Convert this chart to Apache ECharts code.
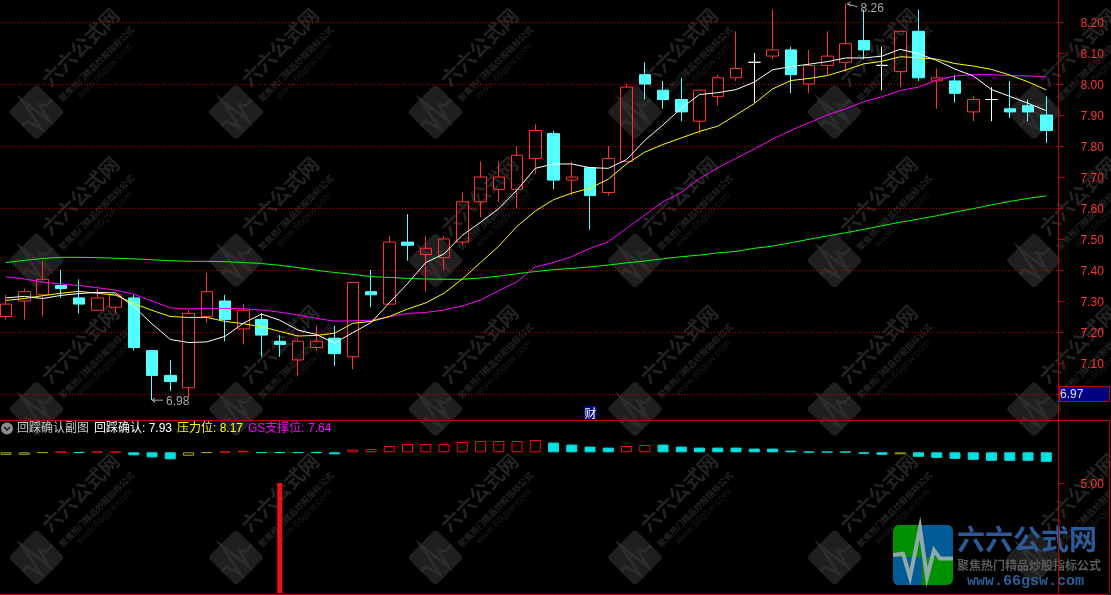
<!DOCTYPE html>
<html><head><meta charset="utf-8">
<style>html,body{margin:0;padding:0;background:#000}#c{width:1111px;height:595px}</style>
<script src="https://cdn.jsdelivr.net/npm/echarts@6/dist/echarts.min.js"></script>
</head><body><div id="c"></div>
<script>
const opens=[7.25,7.30,7.32,7.35,7.31,7.27,7.28,7.31,7.14,7.06,7.02,7.25,7.30,7.21,7.24,7.17,7.11,7.15,7.18,7.12,7.33,7.29,7.49,7.45,7.44,7.49,7.62,7.66,7.66,7.76,7.84,7.69,7.73,7.65,7.75,8.03,7.98,7.95,7.88,7.96,8.02,8.07,8.09,8.11,8.00,8.06,8.07,8.14,8.06,8.04,8.17,8.01,8.01,7.91,7.95,7.92,7.93,7.90];
const closes=[7.29,7.33,7.37,7.34,7.29,7.31,7.32,7.15,7.06,7.04,7.26,7.33,7.24,7.27,7.19,7.16,7.17,7.17,7.13,7.36,7.32,7.49,7.48,7.47,7.50,7.62,7.70,7.70,7.77,7.85,7.69,7.70,7.64,7.76,7.99,8.00,7.95,7.91,7.98,8.02,8.05,8.07,8.11,8.03,8.06,8.09,8.13,8.11,8.06,8.17,8.02,8.02,7.97,7.95,7.95,7.91,7.91,7.85];
const lows=[7.24,7.24,7.25,7.31,7.26,7.27,7.26,7.14,6.98,7.01,6.99,7.23,7.17,7.16,7.12,7.12,7.06,7.14,7.09,7.08,7.28,7.29,7.43,7.33,7.40,7.48,7.57,7.62,7.60,7.71,7.66,7.64,7.53,7.64,7.75,7.95,7.92,7.88,7.84,7.93,8.01,7.94,8.08,7.97,7.97,8.03,8.04,8.08,7.98,7.99,8.01,7.92,7.94,7.88,7.88,7.89,7.88,7.81];
const highs=[7.32,7.34,7.43,7.40,7.37,7.34,7.32,7.32,7.14,7.11,7.27,7.39,7.32,7.29,7.26,7.19,7.18,7.22,7.22,7.36,7.40,7.51,7.58,7.51,7.51,7.65,7.75,7.75,7.80,7.87,7.85,7.75,7.73,7.80,8.00,8.07,8.01,8.02,7.98,8.03,8.17,8.10,8.24,8.12,8.11,8.17,8.26,8.24,8.12,8.17,8.24,8.05,8.03,7.96,7.99,8.01,7.95,7.96];
const whiteLine=[7.31,7.315,7.308,7.318,7.324,7.328,7.326,7.282,7.226,7.176,7.166,7.168,7.186,7.228,7.258,7.238,7.206,7.192,7.164,7.198,7.23,7.294,7.356,7.424,7.452,7.512,7.554,7.598,7.658,7.728,7.742,7.742,7.73,7.728,7.756,7.818,7.868,7.922,7.966,7.972,7.982,8.006,8.046,8.056,8.064,8.072,8.084,8.084,8.09,8.112,8.098,8.076,8.048,8.026,7.982,7.96,7.938,7.914];
const yellowLine=[7.302,7.308,7.317,7.325,7.331,7.325,7.319,7.292,7.27,7.25,7.247,7.247,7.234,7.227,7.217,7.202,7.187,7.189,7.196,7.228,7.234,7.25,7.274,7.294,7.325,7.371,7.424,7.477,7.541,7.59,7.627,7.648,7.664,7.693,7.742,7.78,7.805,7.826,7.847,7.864,7.90,7.937,7.984,8.011,8.018,8.027,8.045,8.065,8.073,8.088,8.085,8.08,8.066,8.058,8.047,8.029,8.007,7.981];
const magentaLine=[7.378,7.371,7.361,7.355,7.35,7.343,7.335,7.322,7.30,7.278,7.274,7.276,7.276,7.275,7.271,7.264,7.255,7.244,7.235,7.236,7.238,7.249,7.26,7.263,7.271,7.284,7.303,7.333,7.362,7.41,7.424,7.443,7.47,7.491,7.534,7.577,7.62,7.65,7.695,7.73,7.76,7.79,7.822,7.85,7.875,7.90,7.92,7.943,7.959,7.979,7.99,8.013,8.026,8.03,8.03,8.027,8.026,8.023];
const greenLine=[7.424,7.431,7.437,7.441,7.441,7.44,7.438,7.436,7.433,7.43,7.428,7.428,7.427,7.424,7.421,7.415,7.408,7.399,7.392,7.386,7.379,7.376,7.373,7.371,7.37,7.37,7.374,7.38,7.388,7.395,7.401,7.405,7.41,7.416,7.423,7.429,7.436,7.443,7.448,7.455,7.46,7.47,7.477,7.488,7.499,7.51,7.52,7.531,7.543,7.554,7.564,7.575,7.587,7.598,7.61,7.621,7.631,7.639];
const histValues=[-2.5,-2.5,-0.5,0.5,-0.5,0.5,0.5,-3,-5,-7,-3.5,-0.5,0.5,1.5,-0.5,-0.5,-0.5,-0.5,-2,2.7,3.3,6.3,8.3,8.3,8.3,10.3,11.3,11.3,11.3,12.3,9.7,7.7,5.7,4.7,6.3,7.3,7.7,5.7,4.7,4.7,4.7,3.7,3.7,1.7,0.5,0.5,0.5,-1.5,-2.5,-2,-4.5,-5.5,-6.5,-7.5,-8.5,-8.5,-8.5,-9.5];
const histKinds=('ooo'+'r'+'c'+'rr'+'ccc'+'oo'+'r'+'R'+'ccccc'+'rrrrrrrrrrr'+'cccc'+'rr'+'ccccccccccccc'+'o'+'cccccccc').split('');
const signalValue=[5.00];
const signalIndex=[15];
const extremes=[[8,6.98],[46,8.26]];
const priceLabels=[8.2,8.1,8.0,7.9,7.8,7.7,7.6,7.5,7.4,7.3,7.2,7.1];
const priceTicks=[8.2,8.1,8.0,7.9,7.8,7.7,7.6,7.5,7.4,7.3,7.2,7.1,7.0];
const lastLow=['6.97'];
const legendTexts=['回踩确认副图','回踩确认: 7.93','压力位: 8.17','GS支撑位: 7.64'];
const categories=opens.map((_,i)=>String(i));

const RED='#ff3232',CYAN='#54ffff',FRAME='#c00000',HCYAN='#00e1e1',OLIVE='#a8a800';
const FONT="12px 'Liberation Sans','Noto Sans CJK SC',sans-serif";
const kindStyle={
 r:{color:'transparent',borderColor:'#f01010',borderWidth:1},
 R:{color:'#f01010',borderColor:'#f01010',borderWidth:1},
 c:{color:HCYAN,borderColor:HCYAN,borderWidth:1},
 o:{color:'transparent',borderColor:OLIVE,borderWidth:1}
};
// watermark decorations
const beatX=[0,.167,.283,.45,.567,.683,.783,1],beatY=[.5,.48,.87,.05,.87,.42,.56,.56];
const gfx=[];
[36.5,236,435.5,635,834.5,1034].forEach(cx=>[112,260.5,409,557.5].forEach(cy=>{
 gfx.push({type:'group',x:cx,y:cy,z:-10,silent:true,children:[
  {type:'group',rotation:Math.PI/4,children:[
   {type:'rect',shape:{x:-20,y:-20,width:40,height:40,r:4},style:{fill:'#1f1f1f'}},
   {type:'polyline',shape:{points:beatX.map((b,i)=>[-20+40*b,-20+40*beatY[i]])},style:{stroke:'#2c2c2c',lineWidth:3,fill:null}}
  ]},
  {type:'text',x:44,y:-65,rotation:Math.PI/4,style:{text:'六六公式网',fill:'#232323',font:"bold 20px 'Noto Sans CJK SC'",textAlign:'center',textVerticalAlign:'middle'}},
  {type:'text',x:60,y:-48,rotation:Math.PI/4,style:{text:'聚焦热门精品炒股指标公式',fill:'#242424',font:"bold 8.5px 'Noto Sans CJK SC'",textAlign:'center',textVerticalAlign:'middle'}},
  {type:'text',x:68,y:-41,rotation:Math.PI/4,style:{text:'www.66gsw.com',fill:'#1a1a1a',font:"10px 'Liberation Sans'",textAlign:'center',textVerticalAlign:'middle'}}
 ]});
}));
// logo
const LG=893,LT=525,LS=60;
gfx.push({type:'group',z:20,silent:true,children:[
 {type:'rect',shape:{x:LG,y:LT,width:LS,height:LS,r:6},style:{fill:'#009000'}},
 {type:'rect',shape:{x:LG+29,y:LT,width:LS-29,height:32,r:[0,6,0,0]},style:{fill:'#005a96'}},
 {type:'rect',shape:{x:LG,y:LT+32,width:29,height:LS-32,r:[0,0,0,6]},style:{fill:'#005a96'}},
 {type:'polyline',shape:{points:beatX.map((b,i)=>[LG+LS*b,LT+LS*beatY[i]])},style:{stroke:'#8fa8a8',lineWidth:4,fill:null,lineJoin:'miter'}},
 {type:'text',x:957,y:539,style:{text:'六六公式网',fill:'#2c5a96',font:"bold 28px 'Noto Sans CJK SC'",textVerticalAlign:'middle'}},
 {type:'text',x:957,y:565,style:{text:'聚焦热门精品炒股指标公式',fill:'#5a5a5a',font:"bold 12px 'Noto Sans CJK SC'",textVerticalAlign:'middle'}},
 {type:'text',x:967,y:581,style:{text:'www.66gsw.com',fill:'#2a5d9c',font:"bold 15px 'Liberation Mono'",textVerticalAlign:'middle'}}
]});
// frame
const seg=(x1,y1,x2,y2)=>({type:'line',z:30,silent:true,shape:{x1,y1,x2,y2},style:{stroke:FRAME,lineWidth:1}});
gfx.push(seg(0,420.5,1109,420.5),seg(1058.5,0,1058.5,595),seg(1109.5,420,1109.5,594),seg(0,594.5,1109,594.5));
gfx.push({type:'rect',z:31,silent:true,shape:{x:1059.5,y:386.5,width:50,height:15},style:{fill:'#000080',stroke:FRAME,lineWidth:1}});
gfx.push({type:'text',z:32,silent:true,x:1060,y:394.5,style:{text:lastLow[0],fill:'#e0e0e0',font:FONT,textVerticalAlign:'middle'}});
gfx.push({type:'rect',z:31,silent:true,shape:{x:584,y:406,width:13,height:14},style:{fill:'#000a80'}});
gfx.push({type:'text',z:32,silent:true,x:590.5,y:413,style:{text:'财',fill:'#fff',font:"12px 'Noto Sans CJK SC'",textAlign:'center',textVerticalAlign:'middle'}});
// title row
gfx.push({type:'circle',z:31,silent:true,shape:{cx:7,cy:428.5,r:6},style:{fill:'#8c8c8c'}});
gfx.push({type:'polyline',z:32,silent:true,shape:{points:[[4,427],[7,430],[10,427]]},style:{stroke:'#111',lineWidth:1.3,fill:null}});
[[17,'#c8c8c8'],[94,'#ffffff'],[177,'#ffff00'],[248,'#ff00ff']].forEach((p,i)=>gfx.push({type:'text',z:31,silent:true,x:p[0],y:429,style:{text:legendTexts[i],fill:p[1],font:FONT,textVerticalAlign:'middle'}}));

const mkLine=(name,data,color)=>({name,type:'line',xAxisIndex:0,yAxisIndex:0,data,showSymbol:false,silent:true,z:5,lineStyle:{color,width:1}});
const hiddenCat={type:'category',data:categories,show:false,boundaryGap:true};
const OB={outerBoundsMode:'none',containLabel:false};
const chart=echarts.init(document.getElementById('c'),null,{renderer:'canvas'});
chart.setOption({
 animation:false,backgroundColor:'#000',
 grid:[
  Object.assign({left:-3.1,width:1058.5,top:-40,height:496},OB),
  Object.assign({left:0,width:1058.5,top:-40,height:496},OB),
  Object.assign({left:-3.1,width:1058.5,top:421,height:172},OB),
  Object.assign({left:0,width:1058.5,top:421,height:172},OB)
 ],
 xAxis:[
  Object.assign({gridIndex:0},hiddenCat),
  {gridIndex:1,type:'value',show:false,min:0,max:1},
  Object.assign({gridIndex:2},hiddenCat),
  Object.assign({gridIndex:2},hiddenCat),
  {gridIndex:3,type:'value',show:false,min:0,max:1}
 ],
 yAxis:[
  {gridIndex:0,type:'value',min:6.8,max:8.4,show:false},
  {gridIndex:1,type:'value',position:'right',min:6.8,max:8.4,interval:0.2,
   axisLine:{show:false},axisTick:{show:false},axisLabel:{show:false},
   splitLine:{show:true,showMinLine:false,showMaxLine:false,lineStyle:{color:'#c00000',type:[1,2],width:1}}},
  {gridIndex:1,type:'value',position:'right',min:6.8,max:8.4,interval:0.1,
   axisLine:{show:true,onZero:false,lineStyle:{color:FRAME}},splitLine:{show:false},
   axisTick:{show:true,length:5,inside:false,customValues:priceTicks,lineStyle:{color:FRAME}},
   axisLabel:{show:true,customValues:priceLabels,margin:22,verticalAlign:'top',lineHeight:3,color:RED,fontFamily:'Liberation Sans',fontSize:12,formatter:v=>v.toFixed(2)}},
  {gridIndex:2,type:'value',min:-140.7,max:31.3,show:false},
  {gridIndex:2,type:'value',min:0,max:7.818,show:false},
  {gridIndex:3,type:'value',position:'right',min:0,max:7.818,interval:5,
   axisLine:{show:true,onZero:false,lineStyle:{color:FRAME}},
   axisTick:{show:true,length:5,customValues:signalValue,lineStyle:{color:FRAME}},
   axisLabel:{show:true,customValues:signalValue,margin:22,verticalAlign:'top',lineHeight:3,color:RED,fontFamily:'Liberation Sans',fontSize:12,formatter:v=>v.toFixed(2)},
   splitLine:{show:true,showMinLine:false,showMaxLine:false,lineStyle:{color:'#c00000',type:[1,2],width:1}}}
 ],
 graphic:gfx,
 series:[
  {name:'K',type:'candlestick',xAxisIndex:0,yAxisIndex:0,barWidth:12,silent:true,z:3,
   data:categories.map((_,i)=>[opens[i],closes[i],lows[i],highs[i]]),
   itemStyle:{color:'transparent',color0:CYAN,borderColor:RED,borderColor0:CYAN,borderColorDoji:'#ffffff',borderWidth:1}},
  mkLine('MA60',greenLine,'#00ff00'),
  mkLine('MA30',magentaLine,'#ff00ff'),
  mkLine('MA10',yellowLine,'#ffff00'),
  mkLine('MA5',whiteLine,'#ffffff'),
  {name:'extremes',type:'custom',xAxisIndex:0,yAxisIndex:0,silent:true,z:6,clip:false,data:extremes,encode:{x:0,y:1},
   renderItem:(p,api)=>{
    const v=api.value(1),c=api.coord([api.value(0),v]),hi=v>8;
    const tx=c[0]+(hi?2:0),ty=c[1]+(hi?0.5:0),ex=tx+(hi?10:11),ey=ty+(hi?3:0);
    return {type:'group',children:[
     {type:'polyline',shape:{points:[[tx+3,ty-2],[tx,ty],[tx+3,ty+2],[tx,ty],[ex,ey]]},style:{stroke:'#a8a8a8',lineWidth:1,fill:null}},
     {type:'text',style:{x:ex+3,y:ey+(hi?2:1),text:v.toFixed(2),fill:'#a8a8a8',font:FONT,textVerticalAlign:'middle'}}
    ]};
   }},
  {name:'回踩确认',type:'bar',xAxisIndex:2,yAxisIndex:3,barWidth:11,silent:true,
   data:histValues.map((v,i)=>({value:v,itemStyle:kindStyle[histKinds[i]]}))},
  {name:'信号',type:'bar',xAxisIndex:3,yAxisIndex:4,barWidth:5,silent:true,
   itemStyle:{color:'#f01010'},
   data:categories.map((_,i)=>{const k=signalIndex.indexOf(i);return k>=0?signalValue[k]:null;})},
  {name:'axisA',type:'line',xAxisIndex:1,yAxisIndex:2,data:[],silent:true},
  {name:'axisB',type:'line',xAxisIndex:4,yAxisIndex:5,data:[],silent:true}
 ]
});
</script></body></html>
